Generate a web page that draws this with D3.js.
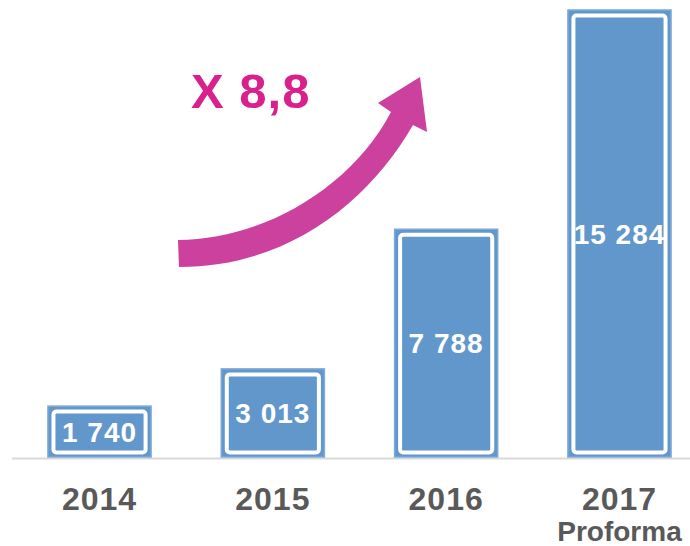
<!DOCTYPE html>
<html>
<head>
<meta charset="utf-8">
<script src="https://cdn.jsdelivr.net/npm/d3@7"></script>
<style>
  body { margin: 0; background: #ffffff; }
  #chart { width: 690px; height: 546px; }
</style>
</head>
<body>
<div id="chart"></div>
<script>
// data
const years = ['2014', '2015', '2016', '2017'];
const subLabels = ['', '', '', 'Proforma'];
const values = [1740, 3013, 7788, 15284];
const valueLabels = ['1 740', '3 013', '7 788', '15 284'];
const growthLabel = 'X 8,8';

const width = 690;
const height = 546;
const baseY = 457;

const svg = d3.select('#chart')
  .append('svg')
  .attr('width', width)
  .attr('height', height);

const x = d3.scaleBand()
  .domain(years)
  .range([14.5, 704.5])
  .paddingInner(0.405)
  .paddingOuter(0.193);

const y = d3.scaleLinear()
  .domain([0, 15284])
  .range([baseY, 10]);

// baseline
svg.append('line')
  .attr('x1', 12)
  .attr('x2', width)
  .attr('y1', baseY + 1.5)
  .attr('y2', baseY + 1.5)
  .style('stroke', '#d9d9d9')
  .style('stroke-width', 2);

const bars = svg.selectAll('g.bar')
  .data(values)
  .enter()
  .append('g')
  .attr('class', 'bar');

// outer blue block
bars.append('rect')
  .attr('x', (d, i) => x(years[i]))
  .attr('y', d => y(d))
  .attr('width', x.bandwidth())
  .attr('height', d => baseY - y(d))
  .style('fill', '#6297cb')
  .style('stroke', '#7ea9d8')
  .style('stroke-width', 1.5);

// value labels
bars.append('text')
  .attr('x', (d, i) => x(years[i]) + x.bandwidth() / 2)
  .attr('y', d => (y(d) + baseY) / 2 + 10)
  .attr('text-anchor', 'middle')
  .style('font-family', '"Liberation Sans", Arial, sans-serif')
  .style('font-weight', 'bold')
  .style('font-size', '28px')
  .style('letter-spacing', '1px')
  .style('fill', '#ffffff')
  .text((d, i) => valueLabels[i]);

// inner white frame
bars.append('rect')
  .attr('x', (d, i) => x(years[i]) + 5.5)
  .attr('y', d => y(d) + 5.5)
  .attr('width', x.bandwidth() - 11)
  .attr('height', d => baseY - y(d) - 10)
  .attr('rx', 3)
  .style('fill', 'none')
  .style('stroke', '#ffffff')
  .style('stroke-width', 4);

// category labels
svg.selectAll('text.year')
  .data(years)
  .enter()
  .append('text')
  .attr('class', 'year')
  .attr('x', d => x(d) + x.bandwidth() / 2)
  .attr('y', 510)
  .attr('text-anchor', 'middle')
  .style('font-family', '"Liberation Sans", Arial, sans-serif')
  .style('font-weight', 'bold')
  .style('font-size', '32px')
  .style('letter-spacing', '1px')
  .style('fill', '#595959')
  .text(d => d);

svg.selectAll('text.sub')
  .data(subLabels)
  .enter()
  .append('text')
  .attr('class', 'sub')
  .attr('x', (d, i) => x(years[i]) + x.bandwidth() / 2)
  .attr('y', 541)
  .attr('text-anchor', 'middle')
  .style('font-family', '"Liberation Sans", Arial, sans-serif')
  .style('font-weight', 'bold')
  .style('font-size', '28px')
  .style('fill', '#595959')
  .text(d => d);

// growth arrow
svg.append('path')
  .attr('d', 'M178,240 C260,240 350,190 391,112 L378,103 L420,77 L427,132 L413,125 C370,200 290,267 179,267 Z')
  .style('fill', '#cc419e');

svg.append('text')
  .attr('x', 191)
  .attr('y', 108)
  .style('font-family', '"Liberation Sans", Arial, sans-serif')
  .style('font-weight', 'bold')
  .style('font-size', '49px')
  .style('letter-spacing', '1px')
  .style('fill', '#d9208b')
  .text(growthLabel);
</script>
</body>
</html>
